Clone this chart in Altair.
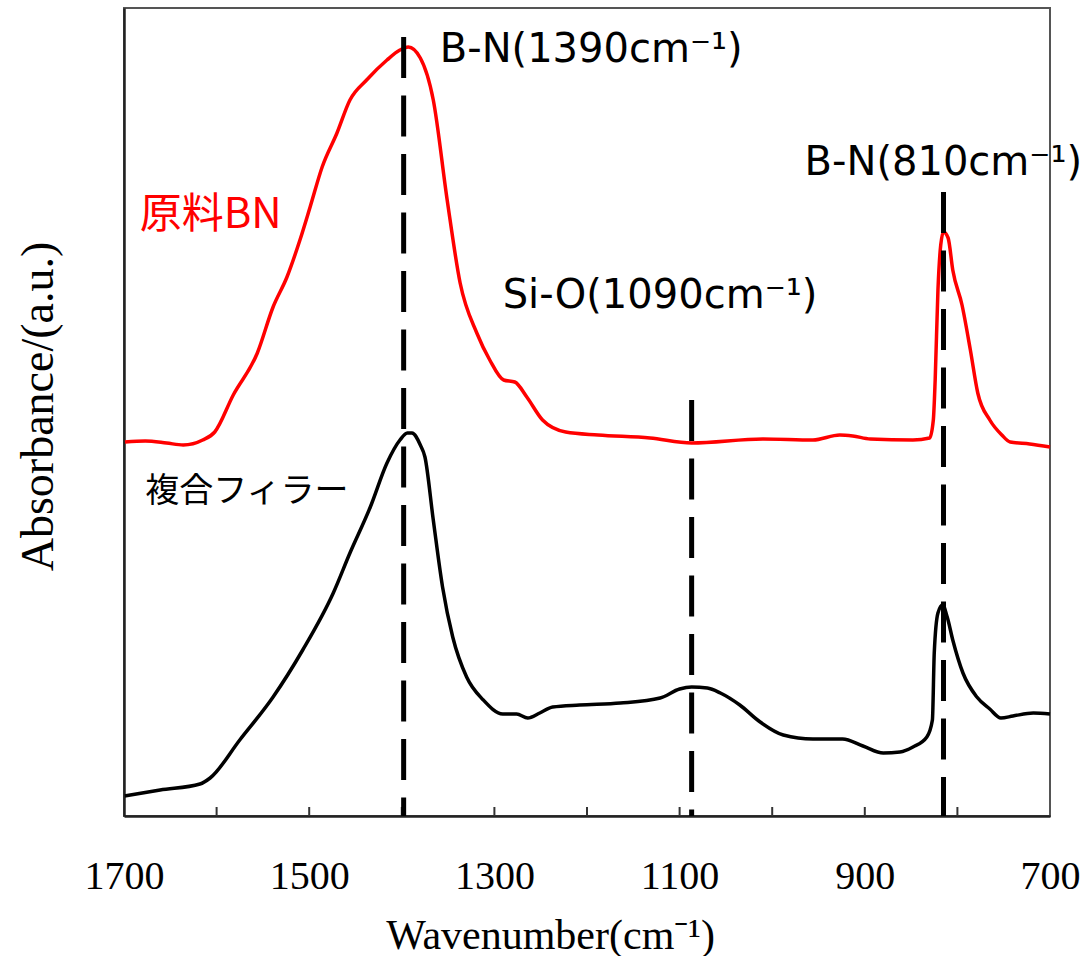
import altair as alt
import pandas as pd

# Red curve: raw BN (原料BN)
bn_wn = [1699, 1677, 1654, 1636, 1615, 1602, 1582, 1556, 1539, 1524, 1510, 1499, 1486, 1470,
         1456, 1438, 1416, 1402, 1393, 1380, 1366, 1351, 1337, 1319, 1305, 1290, 1278, 1265,
         1248, 1223, 1188, 1132, 1087, 1010, 956, 927, 913, 894, 848, 830, 826, 824, 821, 818,
         815, 810, 805, 795, 786, 778, 765, 752, 743, 722, 700]
bn_abs = [3.74, 3.75, 3.73, 3.71, 3.76, 3.84, 4.21, 4.63, 5.09, 5.39, 5.76, 6.09, 6.49, 6.83,
          7.16, 7.36, 7.56, 7.66, 7.69, 7.58, 7.16, 6.16, 5.33, 4.83, 4.56, 4.36, 4.34, 4.19,
          3.96, 3.84, 3.81, 3.78, 3.73, 3.77, 3.76, 3.81, 3.80, 3.77, 3.76, 3.78, 3.96, 4.36,
          5.26, 5.71, 5.84, 5.78, 5.46, 5.11, 4.66, 4.23, 3.96, 3.81, 3.74, 3.72, 3.69]

# Black curve: composite filler (複合フィラー)
cf_wn = [1699, 1661, 1618, 1607, 1575, 1539, 1507, 1474, 1456, 1434, 1416, 1402, 1394, 1389,
         1380, 1375, 1366, 1356, 1345, 1330, 1312, 1291, 1276, 1264, 1251, 1237, 1208, 1164,
         1121, 1100, 1087, 1070, 1056, 1035, 1013, 988, 956, 924, 902, 880, 862, 848, 833,
         827, 825, 821, 816, 811, 805, 794, 779, 765, 753, 740, 718, 700]
cf_abs = [0.20, 0.26, 0.32, 0.38, 0.76, 1.19, 1.66, 2.23, 2.63, 3.09, 3.53, 3.76, 3.83, 3.83,
          3.71, 3.59, 2.96, 2.29, 1.79, 1.39, 1.16, 1.02, 1.02, 0.98, 1.03, 1.09, 1.11, 1.13,
          1.18, 1.27, 1.29, 1.28, 1.23, 1.11, 0.94, 0.81, 0.77, 0.77, 0.70, 0.63, 0.64, 0.69,
          0.79, 0.96, 1.63, 2.03, 2.11, 1.99, 1.76, 1.43, 1.19, 1.07, 0.98, 1.00, 1.03, 1.02]

# Dashed marker lines
mark_wn = [1398, 1087, 815]
mark_top = [7.79, 4.16, 6.24]
mark_bottom = [0, 0, 0]

# Peak annotations
ann_text = ["B-N(1390cm⁻¹)", "Si-O(1090cm⁻¹)", "B-N(810cm⁻¹)"]
ann_wn = [1359, 1291, 965]
ann_abs = [7.66, 5.20, 6.53]

# Series labels
lab_bn = ["原料BN"]
lab_bn_wn = [1683]
lab_bn_abs = [6.01]
lab_cf = ["複合フィラー"]
lab_cf_wn = [1677]
lab_cf_abs = [3.24]

# Inward minor ticks
tick_wn = [1600, 1500, 1400, 1300, 1200, 1100, 1000, 900, 800]
x_label_values = [1700, 1500, 1300, 1100, 900, 700]

df_bn = pd.DataFrame({"wn": bn_wn, "a": bn_abs})
df_cf = pd.DataFrame({"wn": cf_wn, "a": cf_abs})
df_mark = pd.DataFrame({"wn": mark_wn, "top": mark_top, "bottom": mark_bottom})
df_ann = pd.DataFrame({"label": ann_text, "wn": ann_wn, "a": ann_abs})
df_lbn = pd.DataFrame({"label": lab_bn, "wn": lab_bn_wn, "a": lab_bn_abs})
df_lcf = pd.DataFrame({"label": lab_cf, "wn": lab_cf_wn, "a": lab_cf_abs})
df_tick = pd.DataFrame({"wn": tick_wn, "y0": [0] * len(tick_wn), "y1": [0.09] * len(tick_wn)})

xscale = alt.Scale(domain=[700, 1700], reverse=True, nice=False, zero=False)
yscale = alt.Scale(domain=[0, 8.08], nice=False, zero=False)

x_axis = alt.Axis(
    values=x_label_values, format="d", title="Wavenumber(cm⁻¹)",
    grid=False, ticks=False, tickSize=0, labelPadding=40, labelFlush=False,
    labelFont="Liberation Serif", labelFontSize=40, labelColor="#000000",
    titleFont="Liberation Serif", titleFontSize=42, titleFontWeight="normal",
    titleColor="#000000", titleX=426, titleY=132, titleAlign="center",
    titleBaseline="alphabetic",
    domainColor="#222222", domainWidth=2.5,
)
y_axis = alt.Axis(
    labels=False, ticks=False, grid=False, title="Absorbance/(a.u.)",
    titleFont="Liberation Serif", titleFontSize=46, titleFontWeight="normal",
    titleColor="#000000", titleX=-72, titleY=398, titleAlign="center",
    titleBaseline="alphabetic", titleAngle=270,
    domainColor="#222222", domainWidth=2.5,
)

x_enc = alt.X("wn:Q", scale=xscale, axis=x_axis)


def y_enc(field):
    return alt.Y(field, scale=yscale, axis=y_axis)


red = alt.Chart(df_bn).mark_line(color="#ff0000", strokeWidth=3.5,
                                 interpolate="monotone").encode(x=x_enc, y=y_enc("a:Q"))
black = alt.Chart(df_cf).mark_line(color="#000000", strokeWidth=3.5,
                                   interpolate="monotone").encode(x=x_enc, y=y_enc("a:Q"))

ticks = alt.Chart(df_tick).mark_rule(color="#333333", strokeWidth=2).encode(
    x=x_enc, y=y_enc("y0:Q"), y2="y1:Q")

marks = alt.Chart(df_mark).mark_rule(color="#000000", strokeWidth=5,
                                     strokeDash=[41, 17.5]).encode(
    x=x_enc, y=y_enc("top:Q"), y2="bottom:Q")

ann = alt.Chart(df_ann).mark_text(font="DejaVu Sans", fontSize=40, color="#000000",
                                  align="left", baseline="middle").encode(
    x=x_enc, y=y_enc("a:Q"), text="label:N")

lbn = alt.Chart(df_lbn).mark_text(font="Noto Sans CJK JP", fontSize=42, color="#ff0000",
                                  align="left", baseline="middle").encode(
    x=x_enc, y=y_enc("a:Q"), text="label:N")

lcf = alt.Chart(df_lcf).mark_text(font="Noto Sans CJK JP", fontSize=34, color="#000000",
                                  align="left", baseline="middle").encode(
    x=x_enc, y=y_enc("a:Q"), text="label:N")

chart = alt.layer(red, black, ticks, marks, ann, lbn, lcf).properties(
    width=926, height=808,
    autosize=alt.AutoSizeParams(type="none"),
    padding={"left": 124, "top": 8, "right": 42, "bottom": 140},
    background="#ffffff",
).configure_view(stroke="#555555", strokeWidth=2).configure_axis(
    labelFont="Liberation Serif", titleFont="Liberation Serif"
)

chart.save("out.html", embed_options={"renderer": "svg", "actions": False})
